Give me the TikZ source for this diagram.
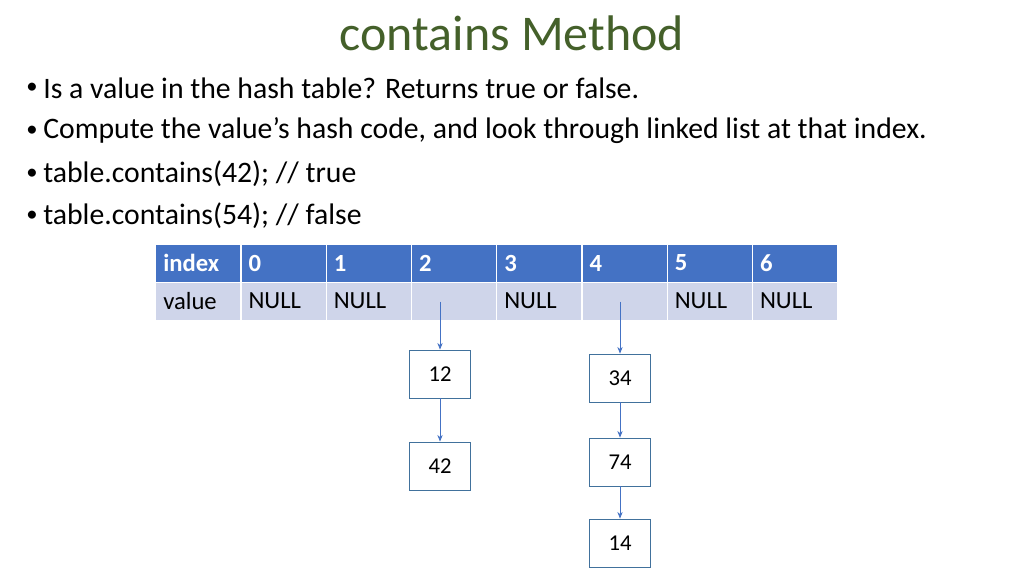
\documentclass[tikz,border=0pt]{standalone}
\usepackage{fontspec}
\setmainfont{Carlito}
\usetikzlibrary{arrows.meta}
\definecolor{ttl}{HTML}{44602A}
\definecolor{hdr}{HTML}{4472C4}
\definecolor{row}{HTML}{CFD5EA}
\definecolor{bx}{HTML}{41719C}
\begin{document}
\begin{tikzpicture}[x=0.75pt,y=-0.75pt,
  bul/.style={anchor=west,font=\fontsize{22.3}{24}\selectfont,inner sep=0},
  hcell/.style={fill=hdr,draw=white,line width=1pt,minimum width=85.25*0.75pt,minimum height=38*0.75pt,anchor=north west,inner sep=0},
  vcell/.style={fill=row,draw=white,line width=1pt,minimum width=85.25*0.75pt,minimum height=38*0.75pt,anchor=north west,inner sep=0},
  htxt/.style={anchor=west,text=white,font=\bfseries\fontsize{18.5}{20}\selectfont,inner sep=0},
  vtxt/.style={anchor=west,font=\fontsize{18.5}{20}\selectfont,inner sep=0},
  lbox/.style={draw=bx,line width=0.6pt,minimum width=61*0.75pt,minimum height=48*0.75pt,inner sep=0,font=\fontsize{17}{19}\selectfont},
  arr/.style={draw=hdr,line width=0.6pt,-{Stealth[length=5pt,width=4pt]}}]
\useasboundingbox (0,0) rectangle (1024,576);
\node[text=ttl,font=\fontsize{37.5}{40}\selectfont] (title) at (512,33) {contains Method};
\foreach \y/\t [count=\i] in {88/{Is a value in the hash table? Returns true or false.},
  131/{Compute the value\symbol{39}s hash code, and look through linked list at that index.},
  174/{table.contains(42); // true},216/{table.contains(54); // false}}{
  \node[bul,font=\fontsize{17}{19}\selectfont] (d\i) at (26,\y) {•};
  \node[bul] (b\i) at (43,\y) {\t};}
\foreach \h/\v [count=\i from 0] in {index/value,0/NULL,1/NULL,2/,3/NULL,4/,5/NULL,6/NULL}{
  \node[hcell] (h\i) at ({155+85.25*\i},244) {};
  \node[vcell] (v\i) at ({155+85.25*\i},282) {};
  \node[htxt] (ht\i) at ({163+85.25*\i},263) {\h};
  \node[vtxt] (vt\i) at ({163+85.25*\i},301) {\v};}
\node[lbox] (n12) at (440,374) {12};
\node[lbox] (n42) at (440,466) {42};
\node[lbox] (n34) at (620,378) {34};
\node[lbox] (n74) at (620,462) {74};
\node[lbox] (n14) at (620,543) {14};
\draw[arr] (n12.north |- v3.center) -- (n12.north);
\draw[arr] (n12) -- (n42);
\draw[arr] (n34.north |- v5.center) -- (n34.north);
\draw[arr] (n34) -- (n74);
\draw[arr] (n74) -- (n14);
\end{tikzpicture}
\end{document}
